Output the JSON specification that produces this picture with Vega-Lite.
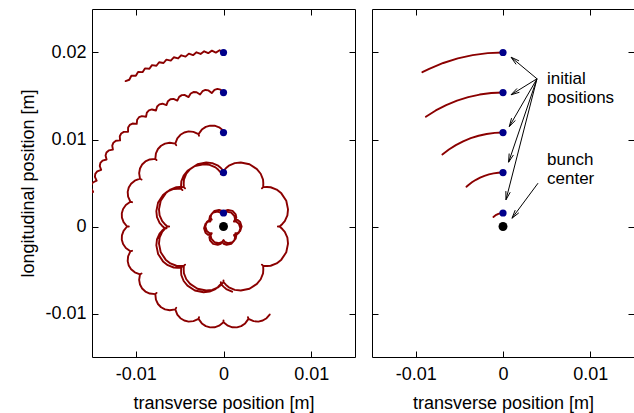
{
"$schema": "https://vega.github.io/schema/vega-lite/v6.json",
"padding": {"left": 19, "top": 8, "right": 0, "bottom": 0},
"background": "white",
"config": {
 "view": {"stroke": "black", "strokeWidth": 1},
 "concat": {"spacing": 15},
 "axis": {"domain": false, "grid": false, "tickSize": -6, "tickColor": "black", "tickWidth": 1,
  "labelFont": "Liberation Sans", "labelFontSize": 18, "labelColor": "black",
  "titleFont": "Liberation Sans", "titleFontSize": 18, "titleFontWeight": "normal", "titleColor": "black"}
},
"datasets": {
 "L": [
{"t":1,"x":0,"y":0.02},{"t":1,"x":-0.000442,"y":0.020256},{"t":1,"x":-0.000872,"y":0.019981},{"t":1,"x":-0.001325,"y":0.020217},{"t":1,"x":-0.001743,"y":0.019924},{"t":1,"x":-0.002206,"y":0.02014},{"t":1,"x":-0.002611,"y":0.019829},{"t":1,"x":-0.003082,"y":0.020024},{"t":1,"x":-0.003473,"y":0.019696},{"t":1,"x":-0.003953,"y":0.019871},{"t":1,"x":-0.004329,"y":0.019526},{"t":1,"x":-0.004815,"y":0.01968},{"t":1,"x":-0.005176,"y":0.019319},{"t":1,"x":-0.005669,"y":0.019451},{"t":1,"x":-0.006014,"y":0.019074},{"t":1,"x":-0.006512,"y":0.019185},{"t":1,"x":-0.00684,"y":0.018794},{"t":1,"x":-0.007343,"y":0.018883},{"t":1,"x":-0.007654,"y":0.018478},{"t":1,"x":-0.00816,"y":0.018544},{"t":1,"x":-0.008452,"y":0.018126},{"t":1,"x":-0.008961,"y":0.01817},{"t":1,"x":-0.009235,"y":0.01774},{"t":1,"x":-0.009745,"y":0.017763},{"t":1,"x":-0.01,"y":0.017321},{"t":1,"x":-0.01051,"y":0.017321},{"t":1,"x":-0.010746,"y":0.016868},{"t":1,"x":-0.011167,"y":0.016713},
{"t":2,"x":0,"y":0.0154},{"t":2,"x":-0.000343,"y":0.015732},{"t":2,"x":-0.000691,"y":0.015815},{"t":2,"x":-0.001029,"y":0.015703},
{"t":2,"x":-0.001342,"y":0.015341},{"t":2,"x":-0.001713,"y":0.015643},{"t":2,"x":-0.002066,"y":0.015694},{"t":2,"x":-0.002394,"y":0.015553},
{"t":2,"x":-0.002674,"y":0.015166},{"t":2,"x":-0.00307,"y":0.015434},{"t":2,"x":-0.003426,"y":0.015455},{"t":2,"x":-0.00374,"y":0.015285},
{"t":2,"x":-0.003986,"y":0.014875},{"t":2,"x":-0.004404,"y":0.015108},{"t":2,"x":-0.00476,"y":0.015097},{"t":2,"x":-0.005058,"y":0.014901},
{"t":2,"x":-0.005267,"y":0.014471},{"t":2,"x":-0.005703,"y":0.014666},{"t":2,"x":-0.006058,"y":0.014625},{"t":2,"x":-0.006338,"y":0.014404},
{"t":2,"x":-0.006508,"y":0.013957},{"t":2,"x":-0.00696,"y":0.014113},{"t":2,"x":-0.00731,"y":0.014041},{"t":2,"x":-0.007569,"y":0.013796},
{"t":2,"x":-0.0077,"y":0.013337},{"t":2,"x":-0.008164,"y":0.013453},{"t":2,"x":-0.008506,"y":0.013351},{"t":2,"x":-0.008743,"y":0.013084},
{"t":2,"x":-0.008833,"y":0.012615},{"t":2,"x":-0.009305,"y":0.01269},{"t":2,"x":-0.009637,"y":0.012559},{"t":2,"x":-0.00985,"y":0.012272},
{"t":2,"x":-0.009899,"y":0.011797},{"t":2,"x":-0.010376,"y":0.011831},{"t":2,"x":-0.010695,"y":0.011671},{"t":2,"x":-0.010882,"y":0.011367},
{"t":2,"x":-0.010889,"y":0.010889},{"t":2,"x":-0.011367,"y":0.010882},{"t":2,"x":-0.011671,"y":0.010695},{"t":2,"x":-0.011831,"y":0.010376},
{"t":2,"x":-0.011797,"y":0.009899},{"t":2,"x":-0.012272,"y":0.00985},{"t":2,"x":-0.012559,"y":0.009637},{"t":2,"x":-0.01269,"y":0.009305},
{"t":2,"x":-0.012615,"y":0.008833},{"t":2,"x":-0.013084,"y":0.008743},{"t":2,"x":-0.013351,"y":0.008506},{"t":2,"x":-0.013453,"y":0.008164},
{"t":2,"x":-0.013337,"y":0.0077},{"t":2,"x":-0.013796,"y":0.007569},{"t":2,"x":-0.014041,"y":0.00731},{"t":2,"x":-0.014113,"y":0.00696},
{"t":2,"x":-0.013957,"y":0.006508},{"t":2,"x":-0.014404,"y":0.006338},{"t":2,"x":-0.014625,"y":0.006058},{"t":2,"x":-0.014666,"y":0.005703},
{"t":2,"x":-0.014471,"y":0.005267},{"t":2,"x":-0.014901,"y":0.005058},{"t":2,"x":-0.015097,"y":0.00476},{"t":2,"x":-0.015108,"y":0.004404},
{"t":2,"x":-0.014875,"y":0.003986},{"t":2,"x":-0.015285,"y":0.00374},{"t":2,"x":-0.015455,"y":0.003426},{"t":2,"x":-0.015434,"y":0.00307},
{"t":2,"x":-0.015166,"y":0.002674},
{"t":3,"x":0,"y":0.0108},{"t":3,"x":0,"y":0.011},{"t":3,"x":-0.000498,"y":0.011399},{"t":3,"x":-0.001014,"y":0.011586},{"t":3,"x":-0.001527,"y":0.0116},{"t":3,"x":-0.00202,"y":0.011453},{"t":3,"x":-0.00247,"y":0.01114},{"t":3,"x":-0.002847,"y":0.010625},
{"t":3,"x":-0.002795,"y":0.010432},{"t":3,"x":-0.002847,"y":0.010625},{"t":3,"x":-0.003431,"y":0.010882},{"t":3,"x":-0.003978,"y":0.010929},{"t":3,"x":-0.004477,"y":0.010809},{"t":3,"x":-0.004915,"y":0.01054},{"t":3,"x":-0.005269,"y":0.010121},{"t":3,"x":-0.0055,"y":0.009526},
{"t":3,"x":-0.0054,"y":0.009353},{"t":3,"x":-0.0055,"y":0.009526},{"t":3,"x":-0.006131,"y":0.009623},{"t":3,"x":-0.006671,"y":0.009527},{"t":3,"x":-0.007122,"y":0.009282},{"t":3,"x":-0.007476,"y":0.008909},{"t":3,"x":-0.007708,"y":0.008412},{"t":3,"x":-0.007778,"y":0.007778},
{"t":3,"x":-0.007637,"y":0.007637},{"t":3,"x":-0.007778,"y":0.007778},{"t":3,"x":-0.008412,"y":0.007708},{"t":3,"x":-0.008909,"y":0.007476},{"t":3,"x":-0.009282,"y":0.007122},{"t":3,"x":-0.009527,"y":0.006671},{"t":3,"x":-0.009623,"y":0.006131},{"t":3,"x":-0.009526,"y":0.0055},
{"t":3,"x":-0.009353,"y":0.0054},{"t":3,"x":-0.009526,"y":0.0055},{"t":3,"x":-0.010121,"y":0.005269},{"t":3,"x":-0.01054,"y":0.004915},{"t":3,"x":-0.010809,"y":0.004477},{"t":3,"x":-0.010929,"y":0.003978},{"t":3,"x":-0.010882,"y":0.003431},{"t":3,"x":-0.010625,"y":0.002847},
{"t":3,"x":-0.010432,"y":0.002795},{"t":3,"x":-0.010625,"y":0.002847},{"t":3,"x":-0.01114,"y":0.00247},{"t":3,"x":-0.011453,"y":0.00202},{"t":3,"x":-0.0116,"y":0.001527},{"t":3,"x":-0.011586,"y":0.001014},{"t":3,"x":-0.011399,"y":0.000498},{"t":3,"x":-0.011,"y":0},
{"t":3,"x":-0.0108,"y":0},{"t":3,"x":-0.011,"y":0},{"t":3,"x":-0.011399,"y":-0.000498},{"t":3,"x":-0.011586,"y":-0.001014},{"t":3,"x":-0.0116,"y":-0.001527},{"t":3,"x":-0.011453,"y":-0.00202},{"t":3,"x":-0.01114,"y":-0.00247},{"t":3,"x":-0.010625,"y":-0.002847},
{"t":3,"x":-0.010432,"y":-0.002795},{"t":3,"x":-0.010625,"y":-0.002847},{"t":3,"x":-0.010882,"y":-0.003431},{"t":3,"x":-0.010929,"y":-0.003978},{"t":3,"x":-0.010809,"y":-0.004477},{"t":3,"x":-0.01054,"y":-0.004915},{"t":3,"x":-0.010121,"y":-0.005269},{"t":3,"x":-0.009526,"y":-0.0055},
{"t":3,"x":-0.009353,"y":-0.0054},{"t":3,"x":-0.009526,"y":-0.0055},{"t":3,"x":-0.009623,"y":-0.006131},{"t":3,"x":-0.009527,"y":-0.006671},{"t":3,"x":-0.009282,"y":-0.007122},{"t":3,"x":-0.008909,"y":-0.007476},{"t":3,"x":-0.008412,"y":-0.007708},{"t":3,"x":-0.007778,"y":-0.007778},
{"t":3,"x":-0.007637,"y":-0.007637},{"t":3,"x":-0.007778,"y":-0.007778},{"t":3,"x":-0.007708,"y":-0.008412},{"t":3,"x":-0.007476,"y":-0.008909},{"t":3,"x":-0.007122,"y":-0.009282},{"t":3,"x":-0.006671,"y":-0.009527},{"t":3,"x":-0.006131,"y":-0.009623},{"t":3,"x":-0.0055,"y":-0.009526},
{"t":3,"x":-0.0054,"y":-0.009353},{"t":3,"x":-0.0055,"y":-0.009526},{"t":3,"x":-0.005269,"y":-0.010121},{"t":3,"x":-0.004915,"y":-0.01054},{"t":3,"x":-0.004477,"y":-0.010809},{"t":3,"x":-0.003978,"y":-0.010929},{"t":3,"x":-0.003431,"y":-0.010882},{"t":3,"x":-0.002847,"y":-0.010625},
{"t":3,"x":-0.002795,"y":-0.010432},{"t":3,"x":-0.002847,"y":-0.010625},{"t":3,"x":-0.00247,"y":-0.01114},{"t":3,"x":-0.00202,"y":-0.011453},{"t":3,"x":-0.001527,"y":-0.0116},{"t":3,"x":-0.001014,"y":-0.011586},{"t":3,"x":-0.000498,"y":-0.011399},{"t":3,"x":0,"y":-0.011},
{"t":3,"x":0,"y":-0.0108},{"t":3,"x":0,"y":-0.011},{"t":3,"x":0.000498,"y":-0.011399},{"t":3,"x":0.001014,"y":-0.011586},{"t":3,"x":0.001527,"y":-0.0116},{"t":3,"x":0.00202,"y":-0.011453},{"t":3,"x":0.00247,"y":-0.01114},{"t":3,"x":0.002847,"y":-0.010625},
{"t":3,"x":0.002795,"y":-0.010432},{"t":3,"x":0.002847,"y":-0.010625},{"t":3,"x":0.003431,"y":-0.010882},{"t":3,"x":0.003978,"y":-0.010929},{"t":3,"x":0.004477,"y":-0.010809},{"t":3,"x":0.004915,"y":-0.01054},{"t":3,"x":0.005269,"y":-0.010121},
{"t":4,"x":0,"y":0.0062},{"t":4,"x":0,"y":0.0064},{"t":4,"x":-0.000293,"y":0.006714},{"t":4,"x":-0.000612,"y":0.006993},{"t":4,"x":-0.001285,"y":0.007288},{"t":4,"x":-0.001972,"y":0.00736},{"t":4,"x":-0.002966,"y":0.00716},{"t":4,"x":-0.00381,"y":0.006599},{"t":4,"x":-0.004244,"y":0.006062},{"t":4,"x":-0.004512,"y":0.005378},{"t":4,"x":-0.00454,"y":0.004954},{"t":4,"x":-0.004525,"y":0.004525},
{"t":4,"x":-0.004384,"y":0.004384},{"t":4,"x":-0.004525,"y":0.004525},{"t":4,"x":-0.004954,"y":0.00454},{"t":4,"x":-0.005378,"y":0.004512},{"t":4,"x":-0.006062,"y":0.004244},{"t":4,"x":-0.006599,"y":0.00381},{"t":4,"x":-0.00716,"y":0.002966},{"t":4,"x":-0.00736,"y":0.001972},{"t":4,"x":-0.007288,"y":0.001285},{"t":4,"x":-0.006993,"y":0.000612},{"t":4,"x":-0.006714,"y":0.000293},{"t":4,"x":-0.0064,"y":0},
{"t":4,"x":-0.0062,"y":0},{"t":4,"x":-0.0064,"y":0},{"t":4,"x":-0.006714,"y":-0.000293},{"t":4,"x":-0.006993,"y":-0.000612},{"t":4,"x":-0.007288,"y":-0.001285},{"t":4,"x":-0.00736,"y":-0.001972},{"t":4,"x":-0.00716,"y":-0.002966},{"t":4,"x":-0.006599,"y":-0.00381},{"t":4,"x":-0.006062,"y":-0.004244},{"t":4,"x":-0.005378,"y":-0.004512},{"t":4,"x":-0.004954,"y":-0.00454},{"t":4,"x":-0.004525,"y":-0.004525},
{"t":4,"x":-0.004384,"y":-0.004384},{"t":4,"x":-0.004525,"y":-0.004525},{"t":4,"x":-0.00454,"y":-0.004954},{"t":4,"x":-0.004512,"y":-0.005378},{"t":4,"x":-0.004244,"y":-0.006062},{"t":4,"x":-0.00381,"y":-0.006599},{"t":4,"x":-0.002966,"y":-0.00716},{"t":4,"x":-0.001972,"y":-0.00736},{"t":4,"x":-0.001285,"y":-0.007288},{"t":4,"x":-0.000612,"y":-0.006993},{"t":4,"x":-0.000293,"y":-0.006714},{"t":4,"x":0,"y":-0.0064},
{"t":4,"x":0,"y":-0.0062},{"t":4,"x":0,"y":-0.0064},{"t":4,"x":0.000293,"y":-0.006714},{"t":4,"x":0.000612,"y":-0.006993},{"t":4,"x":0.001285,"y":-0.007288},{"t":4,"x":0.001972,"y":-0.00736},{"t":4,"x":0.002966,"y":-0.00716},{"t":4,"x":0.00381,"y":-0.006599},{"t":4,"x":0.004244,"y":-0.006062},{"t":4,"x":0.004512,"y":-0.005378},{"t":4,"x":0.00454,"y":-0.004954},{"t":4,"x":0.004525,"y":-0.004525},
{"t":4,"x":0.004384,"y":-0.004384},{"t":4,"x":0.004525,"y":-0.004525},{"t":4,"x":0.004954,"y":-0.00454},{"t":4,"x":0.005378,"y":-0.004512},{"t":4,"x":0.006062,"y":-0.004244},{"t":4,"x":0.006599,"y":-0.00381},{"t":4,"x":0.00716,"y":-0.002966},{"t":4,"x":0.00736,"y":-0.001972},{"t":4,"x":0.007288,"y":-0.001285},{"t":4,"x":0.006993,"y":-0.000612},{"t":4,"x":0.006714,"y":-0.000293},{"t":4,"x":0.0064,"y":0},
{"t":4,"x":0.0062,"y":0},{"t":4,"x":0.0064,"y":0},{"t":4,"x":0.006714,"y":0.000293},{"t":4,"x":0.006993,"y":0.000612},{"t":4,"x":0.007288,"y":0.001285},{"t":4,"x":0.00736,"y":0.001972},{"t":4,"x":0.00716,"y":0.002966},{"t":4,"x":0.006599,"y":0.00381},{"t":4,"x":0.006062,"y":0.004244},{"t":4,"x":0.005378,"y":0.004512},{"t":4,"x":0.004954,"y":0.00454},{"t":4,"x":0.004525,"y":0.004525},
{"t":4,"x":0.004384,"y":0.004384},{"t":4,"x":0.004525,"y":0.004525},{"t":4,"x":0.00454,"y":0.004954},{"t":4,"x":0.004512,"y":0.005378},{"t":4,"x":0.004244,"y":0.006062},{"t":4,"x":0.00381,"y":0.006599},{"t":4,"x":0.002966,"y":0.00716},{"t":4,"x":0.001972,"y":0.00736},{"t":4,"x":0.001285,"y":0.007288},{"t":4,"x":0.000612,"y":0.006993},{"t":4,"x":0.000293,"y":0.006714},{"t":4,"x":0,"y":0.0064},{"t":4,"x":0,"y":0.0062},
{"t":4,"x":-0.0003,"y":0.006},{"t":4,"x":-0.0003,"y":0.0062},{"t":4,"x":-0.000593,"y":0.006514},{"t":4,"x":-0.000912,"y":0.006793},{"t":4,"x":-0.001585,"y":0.007088},{"t":4,"x":-0.002272,"y":0.00716},{"t":4,"x":-0.003266,"y":0.00696},{"t":4,"x":-0.00411,"y":0.006399},{"t":4,"x":-0.004544,"y":0.005862},{"t":4,"x":-0.004812,"y":0.005178},{"t":4,"x":-0.00484,"y":0.004754},{"t":4,"x":-0.004825,"y":0.004325},
{"t":4,"x":-0.004684,"y":0.004184},{"t":4,"x":-0.004825,"y":0.004325},{"t":4,"x":-0.005254,"y":0.00434},{"t":4,"x":-0.005678,"y":0.004312},{"t":4,"x":-0.006362,"y":0.004044},{"t":4,"x":-0.006899,"y":0.00361},{"t":4,"x":-0.00746,"y":0.002766},{"t":4,"x":-0.00766,"y":0.001772},{"t":4,"x":-0.007588,"y":0.001085},{"t":4,"x":-0.007293,"y":0.000412},{"t":4,"x":-0.007014,"y":0.000093},{"t":4,"x":-0.0067,"y":-0.0002},
{"t":4,"x":-0.0065,"y":-0.0002},{"t":4,"x":-0.0067,"y":-0.0002},{"t":4,"x":-0.007014,"y":-0.000493},{"t":4,"x":-0.007293,"y":-0.000812},{"t":4,"x":-0.007588,"y":-0.001485},{"t":4,"x":-0.00766,"y":-0.002172},{"t":4,"x":-0.00746,"y":-0.003166},{"t":4,"x":-0.006899,"y":-0.00401},{"t":4,"x":-0.006362,"y":-0.004444},{"t":4,"x":-0.005678,"y":-0.004712},{"t":4,"x":-0.005254,"y":-0.00474},{"t":4,"x":-0.004825,"y":-0.004725},
{"t":4,"x":-0.004684,"y":-0.004584},{"t":4,"x":-0.004825,"y":-0.004725},{"t":4,"x":-0.00484,"y":-0.005154},{"t":4,"x":-0.004812,"y":-0.005578},{"t":4,"x":-0.004544,"y":-0.006262},{"t":4,"x":-0.00411,"y":-0.006799},{"t":4,"x":-0.003266,"y":-0.00736},{"t":4,"x":-0.002272,"y":-0.00756},{"t":4,"x":-0.001585,"y":-0.007488},{"t":4,"x":-0.000912,"y":-0.007193},{"t":4,"x":-0.000593,"y":-0.006914},{"t":4,"x":-0.0003,"y":-0.0066},
{"t":4,"x":-0.0003,"y":-0.0064},{"t":4,"x":-0.0003,"y":-0.0066},{"t":4,"x":-0.000007,"y":-0.006914},{"t":4,"x":0.000312,"y":-0.007193},{"t":4,"x":0.000985,"y":-0.007488},
{"t":5,"x":0,"y":0.00155},{"t":5,"x":-0.000156,"y":0.001783},{"t":5,"x":-0.00051,"y":0.001903},{"t":5,"x":-0.001035,"y":0.001793},{"t":5,"x":-0.001393,"y":0.001393},{"t":5,"x":-0.001466,"y":0.001027},{"t":5,"x":-0.001342,"y":0.000775},{"t":5,"x":-0.001622,"y":0.000756},{"t":5,"x":-0.001903,"y":0.00051},{"t":5,"x":-0.00207,"y":0},{"t":5,"x":-0.001903,"y":-0.00051},{"t":5,"x":-0.001622,"y":-0.000756},{"t":5,"x":-0.001342,"y":-0.000775},{"t":5,"x":-0.001466,"y":-0.001027},{"t":5,"x":-0.001393,"y":-0.001393},{"t":5,"x":-0.001035,"y":-0.001793},{"t":5,"x":-0.00051,"y":-0.001903},{"t":5,"x":-0.000156,"y":-0.001783},{"t":5,"x":0,"y":-0.00155},{"t":5,"x":0.000156,"y":-0.001783},{"t":5,"x":0.00051,"y":-0.001903},{"t":5,"x":0.001035,"y":-0.001793},{"t":5,"x":0.001393,"y":-0.001393},{"t":5,"x":0.001466,"y":-0.001027},{"t":5,"x":0.001342,"y":-0.000775},{"t":5,"x":0.001622,"y":-0.000756},{"t":5,"x":0.001903,"y":-0.00051},{"t":5,"x":0.00207,"y":0},{"t":5,"x":0.001903,"y":0.00051},{"t":5,"x":0.001622,"y":0.000756},{"t":5,"x":0.001342,"y":0.000775},{"t":5,"x":0.001466,"y":0.001027},{"t":5,"x":0.001393,"y":0.001393},{"t":5,"x":0.001035,"y":0.001793},{"t":5,"x":0.00051,"y":0.001903},{"t":5,"x":0.000156,"y":0.001783},{"t":5,"x":0,"y":0.00155},
{"t":5,"x":-0.00015,"y":0.00135},{"t":5,"x":-0.000306,"y":0.001583},{"t":5,"x":-0.00066,"y":0.001703},{"t":5,"x":-0.001185,"y":0.001593},{"t":5,"x":-0.001543,"y":0.001193},{"t":5,"x":-0.001616,"y":0.000827},{"t":5,"x":-0.001492,"y":0.000575},{"t":5,"x":-0.001772,"y":0.000556},{"t":5,"x":-0.002053,"y":0.00031},{"t":5,"x":-0.00222,"y":-0.0002},{"t":5,"x":-0.002053,"y":-0.00071},{"t":5,"x":-0.001772,"y":-0.000956},{"t":5,"x":-0.001492,"y":-0.000975},{"t":5,"x":-0.001616,"y":-0.001227},{"t":5,"x":-0.001543,"y":-0.001593},{"t":5,"x":-0.001185,"y":-0.001993},{"t":5,"x":-0.00066,"y":-0.002103},{"t":5,"x":-0.000306,"y":-0.001983},{"t":5,"x":-0.00015,"y":-0.00175},{"t":5,"x":0.000006,"y":-0.001983},{"t":5,"x":0.00036,"y":-0.002103},{"t":5,"x":0.000885,"y":-0.001993},{"t":5,"x":0.001243,"y":-0.001593},{"t":5,"x":0.001316,"y":-0.001227},{"t":5,"x":0.001192,"y":-0.000975},{"t":5,"x":0.001472,"y":-0.000956},{"t":5,"x":0.001753,"y":-0.00071},{"t":5,"x":0.00192,"y":-0.0002},{"t":5,"x":0.001753,"y":0.00031},{"t":5,"x":0.001472,"y":0.000556},{"t":5,"x":0.001192,"y":0.000575},{"t":5,"x":0.001316,"y":0.000827},{"t":5,"x":0.001243,"y":0.001193},{"t":5,"x":0.000885,"y":0.001593},{"t":5,"x":0.00036,"y":0.001703},{"t":5,"x":0.000006,"y":0.001583},{"t":5,"x":-0.00015,"y":0.00135}
 ],
 "R": [
{"t":1,"x":0,"y":0.02},{"t":1,"x":-0.001743,"y":0.019924},{"t":1,"x":-0.003473,"y":0.019696},{"t":1,"x":-0.005176,"y":0.019319},{"t":1,"x":-0.00684,"y":0.018794},{"t":1,"x":-0.008452,"y":0.018126},{"t":1,"x":-0.009235,"y":0.01774},
{"t":2,"x":0,"y":0.0154},{"t":2,"x":-0.001342,"y":0.015341},{"t":2,"x":-0.002674,"y":0.015166},{"t":2,"x":-0.003986,"y":0.014875},{"t":2,"x":-0.005267,"y":0.014471},{"t":2,"x":-0.006508,"y":0.013957},{"t":2,"x":-0.0077,"y":0.013337},{"t":2,"x":-0.008833,"y":0.012615},
{"t":3,"x":0,"y":0.0108},{"t":3,"x":-0.000941,"y":0.010759},{"t":3,"x":-0.001875,"y":0.010636},{"t":3,"x":-0.002795,"y":0.010432},{"t":3,"x":-0.003694,"y":0.010149},{"t":3,"x":-0.004564,"y":0.009788},{"t":3,"x":-0.0054,"y":0.009353},{"t":3,"x":-0.006195,"y":0.008847},{"t":3,"x":-0.006942,"y":0.008273},
{"t":4,"x":0,"y":0.0062},{"t":4,"x":-0.00054,"y":0.006176},{"t":4,"x":-0.001077,"y":0.006106},{"t":4,"x":-0.001605,"y":0.005989},{"t":4,"x":-0.002121,"y":0.005826},{"t":4,"x":-0.00262,"y":0.005619},{"t":4,"x":-0.0031,"y":0.005369},{"t":4,"x":-0.003556,"y":0.005079},{"t":4,"x":-0.003985,"y":0.004749},{"t":4,"x":-0.004189,"y":0.004571},
{"t":5,"x":0,"y":0.00155},{"t":5,"x":-0.000269,"y":0.001526},{"t":5,"x":-0.00053,"y":0.001457},{"t":5,"x":-0.000775,"y":0.001342},{"t":5,"x":-0.001096,"y":0.001096}
 ],
 "ini": [{"x":0,"y":0.02},{"x":0,"y":0.0154},{"x":0,"y":0.0108},{"x":0,"y":0.0062},{"x":0,"y":0.00155}],
 "ctr": [{"x":0,"y":0}],
 "arr": [
{"x":0.00389,"y":0.01698,"x2":0.00092,"y2":0.01946},
{"x":0.00389,"y":0.01698,"x2":0.00092,"y2":0.01514},
{"x":0.00389,"y":0.01698,"x2":0.00072,"y2":0.01149},
{"x":0.00389,"y":0.01698,"x2":0.00064,"y2":0.00739},
{"x":0.00389,"y":0.01698,"x2":0.00034,"y2":0.00307},
{"x":0.00401,"y":0.00498,"x2":0.00103,"y2":0.00095},
{"x":0.00092,"y":0.01946,"x2":0.001827,"y2":0.01904},
{"x":0.00092,"y":0.01946,"x2":0.001496,"y2":0.018642},
{"x":0.00092,"y":0.01514,"x2":0.001605,"y2":0.015869},
{"x":0.00092,"y":0.01514,"x2":0.001877,"y2":0.015429},
{"x":0.00072,"y":0.01149,"x2":0.000979,"y2":0.012456},
{"x":0.00072,"y":0.01149,"x2":0.001427,"y2":0.012197},
{"x":0.00064,"y":0.00739,"x2":0.000705,"y2":0.008388},
{"x":0.00064,"y":0.00739,"x2":0.001195,"y2":0.008222},
{"x":0.00034,"y":0.00307,"x2":0.000328,"y2":0.00407},
{"x":0.00034,"y":0.00307,"x2":0.00083,"y2":0.003942},
{"x":0.00103,"y":0.00095,"x2":0.001396,"y2":0.001881},
{"x":0.00103,"y":0.00095,"x2":0.001812,"y2":0.001573}
 ],
 "txt": [
{"x":0.00504,"y":0.016339,"s":"initial\npositions"},
{"x":0.00504,"y":0.007046,"s":"bunch\ncenter"}
 ]
},
"hconcat": [
 {
  "width": 263, "height": 348,
  "layer": [
   {"data": {"name": "L"},
    "mark": {"type": "line", "color": "#8b0000", "strokeWidth": 1.9, "clip": true, "strokeJoin": "round", "strokeCap": "round"},
    "encoding": {
     "x": {"field": "x", "type": "quantitative", "scale": {"domain": [-0.015, 0.015], "nice": false, "zero": false},
       "axis": {"orient": "bottom", "values": [-0.01, 0, 0.01], "title": "transverse position [m]", "labelPadding": 14, "titlePadding": 11,
         "labelExpr": "datum.value == 0 ? '0' : (datum.value < 0 ? '-' : '') + format(abs(datum.value), '.2f')"}},
     "y": {"field": "y", "type": "quantitative", "scale": {"domain": [-0.015, 0.025], "nice": false, "zero": false},
       "axis": {"orient": "left", "values": [-0.01, 0, 0.01, 0.02], "title": "longitudinal position [m]", "labelPadding": 12, "titlePadding": 7,
         "labelExpr": "datum.value == 0 ? '0' : (datum.value < 0 ? '-' : '') + format(abs(datum.value), '.2f')"}},
     "detail": {"field": "t", "type": "nominal"},
     "order": {"value": null}
    }},
   {"data": {"name": "ini"},
    "mark": {"type": "circle", "color": "#00008b", "size": 52, "opacity": 1},
    "encoding": {
     "x": {"field": "x", "type": "quantitative", "axis": {"orient": "top", "values": [-0.01, 0, 0.01], "labels": false, "title": null}},
     "y": {"field": "y", "type": "quantitative", "axis": {"orient": "right", "values": [-0.01, 0, 0.01, 0.02], "labels": false, "title": null}}
    }},
   {"data": {"name": "ctr"},
    "mark": {"type": "circle", "color": "black", "size": 80, "opacity": 1},
    "encoding": {
     "x": {"field": "x", "type": "quantitative", "axis": null},
     "y": {"field": "y", "type": "quantitative", "axis": null}
    }}
  ],
  "resolve": {"axis": {"x": "independent", "y": "independent"}}
 },
 {
  "width": 262, "height": 348,
  "layer": [
   {"data": {"name": "R"},
    "mark": {"type": "line", "color": "#8b0000", "strokeWidth": 1.9, "clip": true, "strokeJoin": "round", "strokeCap": "round"},
    "encoding": {
     "x": {"field": "x", "type": "quantitative", "scale": {"domain": [-0.015, 0.015], "nice": false, "zero": false},
       "axis": {"orient": "bottom", "values": [-0.01, 0, 0.01], "title": "transverse position [m]", "labelPadding": 14, "titlePadding": 11,
         "labelExpr": "datum.value == 0 ? '0' : (datum.value < 0 ? '-' : '') + format(abs(datum.value), '.2f')"}},
     "y": {"field": "y", "type": "quantitative", "scale": {"domain": [-0.015, 0.025], "nice": false, "zero": false},
       "axis": {"orient": "left", "values": [-0.01, 0, 0.01, 0.02], "labels": false, "title": null}},
     "detail": {"field": "t", "type": "nominal"},
     "order": {"value": null}
    }},
   {"data": {"name": "arr"},
    "mark": {"type": "rule", "color": "black", "strokeWidth": 1},
    "encoding": {
     "x": {"field": "x", "type": "quantitative", "axis": null},
     "y": {"field": "y", "type": "quantitative", "axis": null},
     "x2": {"field": "x2"},
     "y2": {"field": "y2"}
    }},
   {"data": {"name": "txt"},
    "mark": {"type": "text", "align": "left", "baseline": "alphabetic", "font": "Liberation Sans", "fontSize": 17, "lineHeight": 19, "lineBreak": "\n", "color": "black"},
    "encoding": {
     "x": {"field": "x", "type": "quantitative", "axis": null},
     "y": {"field": "y", "type": "quantitative", "axis": null},
     "text": {"field": "s"}
    }},
   {"data": {"name": "ini"},
    "mark": {"type": "circle", "color": "#00008b", "size": 52, "opacity": 1},
    "encoding": {
     "x": {"field": "x", "type": "quantitative", "axis": {"orient": "top", "values": [-0.01, 0, 0.01], "labels": false, "title": null}},
     "y": {"field": "y", "type": "quantitative", "axis": {"orient": "right", "values": [-0.01, 0, 0.01, 0.02], "labels": false, "title": null}}
    }},
   {"data": {"name": "ctr"},
    "mark": {"type": "circle", "color": "black", "size": 80, "opacity": 1},
    "encoding": {
     "x": {"field": "x", "type": "quantitative", "axis": null},
     "y": {"field": "y", "type": "quantitative", "axis": null}
    }}
  ],
  "resolve": {"axis": {"x": "independent", "y": "independent"}}
 }
]
}
